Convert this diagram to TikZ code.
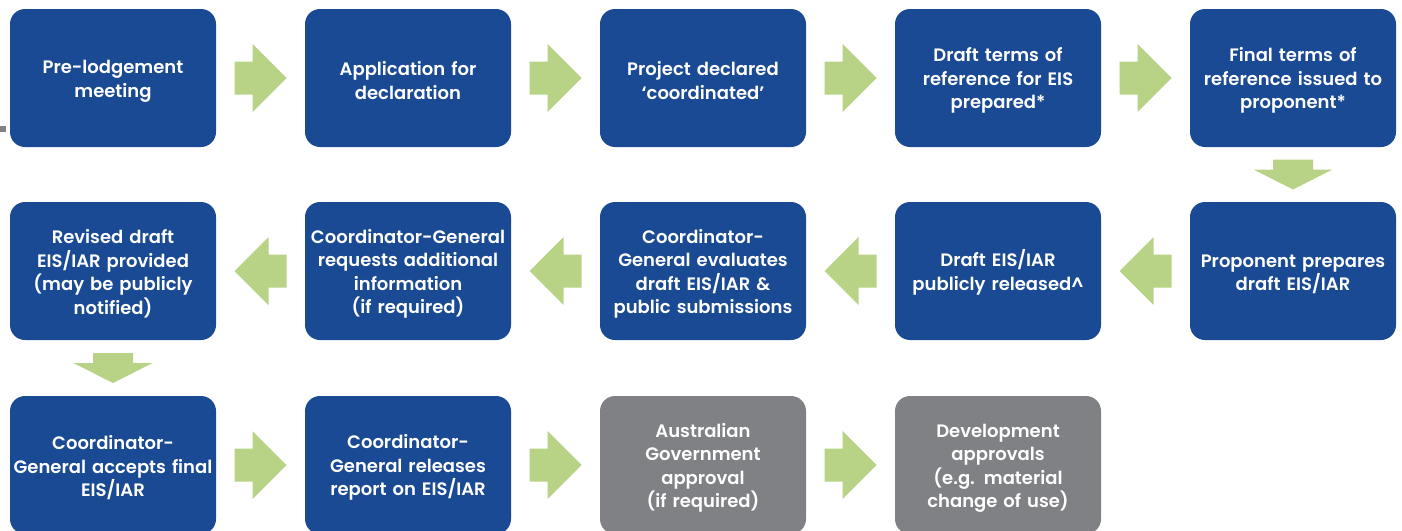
\documentclass[tikz,border=0pt]{standalone}
\usepackage{fontspec}
\setmainfont{Poppins}[BoldFont={Poppins SemiBold}]
\usetikzlibrary{calc}
\definecolor{stepblue}{HTML}{1A4A94}
\definecolor{stepgrey}{HTML}{808184}
\definecolor{flowgreen}{HTML}{B8D386}
\begin{document}
\begin{tikzpicture}[x=1pt,y=-1pt,
  stepbox/.style={rounded corners=15pt, fill=stepblue, minimum width=206pt,
    minimum height=138pt, text width=204pt, align=center, text=white,
    inner sep=0pt, font=\fontsize{18}{23.5}\selectfont\bfseries,
    execute at begin node={\rule{0pt}{19.5pt}}},
  greybox/.style={stepbox, fill=stepgrey},
  hflow/.pic={\fill[flowgreen] (-26,-16.5) -- (-8,-16.5) -- (-8,-34) -- (26,0)
      -- (-8,34) -- (-8,16.5) -- (-26,16.5) -- cycle;},
  vflow/.pic={\fill[flowgreen] (-20,-15) -- (20,-15) -- (20,-5) -- (39.5,-5)
      -- (0,15) -- (-39.5,-5) -- (-20,-5) -- cycle;}]
\clip (0,0) rectangle (1402,530);
\fill[white] (0,0) rectangle (1402,530);
\fill[stepgrey] (0,126) rectangle (6,132);

% first row, left to right
\node[stepbox] (a1) at (113,78) {Pre-lodgement\\meeting};
\node[stepbox] (a2) at (408,78) {Application for\\declaration};
\node[stepbox] (a3) at (703,78) {Project declared\\‘coordinated’};
\node[stepbox] (a4) at (998,78) {Draft terms of\\reference for EIS\\prepared*};
\node[stepbox] (a5) at (1293,78) {Final terms of\\reference issued to\\proponent*};

% second row, right to left
\node[stepbox] (b5) at (1293,271) {Proponent prepares\\draft EIS/IAR};
\node[stepbox] (b4) at (998,271) {Draft EIS/IAR\\publicly released\textasciicircum};
\node[stepbox] (b3) at (703,271) {Coordinator-\\General evaluates\\draft EIS/IAR \&\\public submissions};
\node[stepbox] (b2) at (408,271) {Coordinator-General\\requests additional\\information\\(if required)};
\node[stepbox] (b1) at (113,271) {Revised draft\\EIS/IAR provided\\(may be publicly\\notified)};

% third row, left to right
\node[stepbox] (c1) at (113,465) {Coordinator-\\General accepts final\\EIS/IAR};
\node[stepbox] (c2) at (408,465) {Coordinator-\\General releases\\report on EIS/IAR};
\node[greybox] (c3) at (703,465) {Australian\\Government\\approval\\(if required)};
\node[greybox] (c4) at (998,465) {Development\\approvals\\(e.g. material\\change of use)};

% flow arrows
\pic at ($(a1.east)!0.5!(a2.west)$) {hflow};
\pic at ($(a2.east)!0.5!(a3.west)$) {hflow};
\pic at ($(a3.east)!0.5!(a4.west)$) {hflow};
\pic at ($(a4.east)!0.5!(a5.west)$) {hflow};
\pic at ($(a5.south)!0.5!(b5.north)$) {vflow};
\pic[rotate=180] at ($(b5.west)!0.5!(b4.east)$) {hflow};
\pic[rotate=180] at ($(b4.west)!0.5!(b3.east)$) {hflow};
\pic[rotate=180] at ($(b3.west)!0.5!(b2.east)$) {hflow};
\pic[rotate=180] at ($(b2.west)!0.5!(b1.east)$) {hflow};
\pic at ($(b1.south)!0.5!(c1.north)$) {vflow};
\pic at ($(c1.east)!0.5!(c2.west)$) {hflow};
\pic at ($(c2.east)!0.5!(c3.west)$) {hflow};
\pic at ($(c3.east)!0.5!(c4.west)$) {hflow};
\end{tikzpicture}
\end{document}
